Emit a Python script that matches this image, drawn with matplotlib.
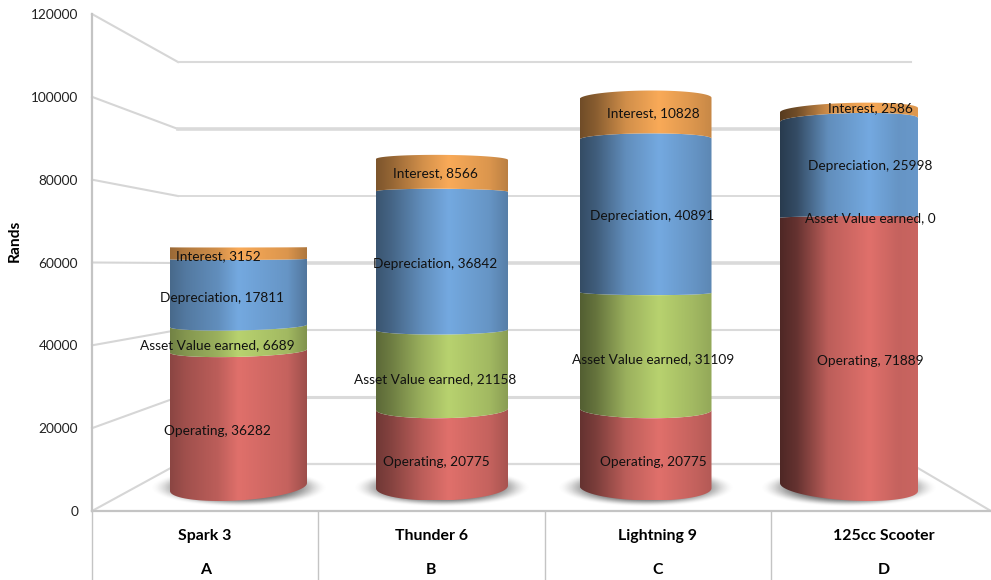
import numpy as np
import matplotlib
matplotlib.use("Agg")
import matplotlib.pyplot as plt
from matplotlib.colors import to_rgb
from matplotlib.patches import PathPatch
from matplotlib.path import Path
from matplotlib.transforms import Affine2D

categories = ["Spark 3", "Thunder 6", "Lightning 9", "125cc Scooter"]
letters = ["A", "B", "C", "D"]
series_names = ["Operating", "Asset Value earned", "Depreciation", "Interest"]
operating = [36282, 20775, 20775, 71889]
asset_value = [6689, 21158, 31109, 0]
depreciation = [17811, 36842, 40891, 25998]
interest = [3152, 8566, 10828, 2586]
y_ticks = [0, 20000, 40000, 60000, 80000, 100000, 120000]

series = [operating, asset_value, depreciation, interest]
colors = ["#e0706b", "#b8d26f", "#74a9e0", "#f9aa58"]

W, H = 991, 580
plt.rcParams["font.family"] = ["Lato", "DejaVu Sans"]

fig = plt.figure(figsize=(W / 100, H / 100), dpi=100)
# pixel coordinates, origin top left, for the walls and labels
px = Affine2D().scale(1, -1).translate(0, H)

# front axis: value scale on the left edge and the category table below
FRONT_L, FRONT_R, FRONT_T, FRONT_B = 92, 997, 14, 511
ax = fig.add_axes([FRONT_L / W, 1 - FRONT_B / H, (FRONT_R - FRONT_L) / W, (FRONT_B - FRONT_T) / H])
ax.set_xlim(0, 4)
ax.set_ylim(0, 120000)
ax.patch.set_visible(False)
for side in ["top", "right"]:
    ax.spines[side].set_visible(False)
for side in ["left", "bottom"]:
    ax.spines[side].set_color("#c4c4c4")
    ax.spines[side].set_linewidth(1.6)
ax.set_yticks(y_ticks)
ax.tick_params(axis="y", length=0, pad=10, labelsize=9.8, labelcolor="#222222")
plt.setp(ax.get_yticklabels(), va="center_baseline")
ax.set_xticks([0, 1, 2, 3])
ax.set_xticklabels([])
ax.tick_params(axis="x", which="major", length=69 * 0.72, width=1, color="#c4c4c4")
ax.set_xticks([0.5, 1.5, 2.5, 3.5], minor=True)
ax.set_xticklabels([f"{c}\n\n{l}" for c, l in zip(categories, letters)], minor=True,
                   fontweight="bold", fontsize=11.4, linespacing=1.27)
ax.tick_params(axis="x", which="minor", length=0, pad=13)
ax.text(15, 241, "Rands", transform=px, rotation=90, ha="center", va="center",
        fontweight="bold", fontsize=11.2)


def front_y(v):
    return FRONT_B - v * (FRONT_B - FRONT_T) / 120000


def back_y(v):
    return 464 - v * (464 - 62) / 120000


# gridlines run along the side wall and then across the back wall
grid_widths = [1.6, 2.2, 1.5, 2.6, 1.4, 2.6, 1.5]
for v, lw in zip(y_ticks, grid_widths):
    ax.plot([FRONT_L, 178], [front_y(v), back_y(v)], transform=px,
            color="#d6d6d6", lw=1.5, clip_on=False, zorder=1)
    ax.plot([178, 911], [back_y(v), back_y(v)], transform=px,
            color="#dadada", lw=lw, clip_on=False, zorder=1)
ax.plot([911, 991], [back_y(0), front_y(0)], transform=px, color="#d6d6d6", lw=1.5,
        clip_on=False, zorder=1)

# cylinders live on their own overlay whose units are category index and rands
CX0, CX_STEP = 238.5, 203.5
BASE_PX, PX_PER_RAND = 487, 0.00375
HORIZON_PX = 243
bars = fig.add_axes([0, 0, 1, 1])
bars.patch.set_visible(False)
bars.axis("off")

radius_px = [68.5, 66, 66, 69]
left_shade = [0.62, 0.5, 0.45, 0.35]
right_shade = [0.7, 0.75, 0.8, 0.9]
peak_at = [0.5, 0.55, 0.6, 0.65]


def arc(i, v, reverse=False):
    # front edge of the cylinder's cross-section at height v
    theta = np.linspace(0, np.pi, 60)
    if reverse:
        theta = theta[::-1]
    py = BASE_PX - v * PX_PER_RAND
    cx_px = CX0 + i * CX_STEP
    sag = 0.055 * (py - HORIZON_PX)
    tilt = (cx_px - 545) / 305 * 4 * (py - HORIZON_PX) / 250
    x = i + radius_px[i] / CX_STEP * np.cos(theta)
    y_px = py + sag * np.sin(theta) + tilt * np.cos(theta)
    return x, (BASE_PX - y_px) / PX_PER_RAND


yy, xx = np.mgrid[-1:1:80j, -1:1:200j]
dist = np.sqrt(xx ** 2 + yy ** 2)
fade = np.clip((1 - dist) / 0.45, 0, 1)
shadow = np.zeros(dist.shape + (4,))
shadow[..., :3] = to_rgb("#757575")
shadow[..., 3] = fade * fade * (3 - 2 * fade)

for i in range(len(categories)):
    # ground shadow
    bars.imshow(shadow, extent=[i - 89 / CX_STEP, i + 89 / CX_STEP,
                                -20 / PX_PER_RAND, 19 / PX_PER_RAND],
                aspect="auto", interpolation="bilinear", zorder=2)
    t = np.linspace(0, 1, 256)
    shade = np.interp(t, [0, 0.12, 0.35, peak_at[i], 0.86, 1],
                      [left_shade[i], left_shade[i] + 0.1, 0.84, 1, 0.88, right_shade[i]])
    bottom = 0
    for values, color in zip(series, colors):
        top = bottom + values[i]
        if values[i] > 0:
            x0, y0 = arc(i, bottom)
            x1, y1 = arc(i, top, reverse=True)
            verts = np.column_stack([np.r_[x0, x1], np.r_[y0, y1]])
            path = Path(np.vstack([verts, verts[:1]]), closed=True)
            grad = (shade[None, :, None] * np.array(to_rgb(color))[None, None, :]).clip(0, 1)
            im = bars.imshow(grad, aspect="auto", zorder=3, interpolation="bilinear",
                             extent=[verts[:, 0].min(), verts[:, 0].max(),
                                     verts[:, 1].min(), verts[:, 1].max()])
            im.set_clip_path(PathPatch(path, transform=bars.transData))
        bottom = top

bars.set_xlim(-CX0 / CX_STEP, (W - CX0) / CX_STEP)
bars.set_ylim((BASE_PX - H) / PX_PER_RAND, BASE_PX / PX_PER_RAND)

# data label anchor points, one row per category, in series order
label_x = [[217, 217, 222, 218], [436, 435, 435, 435], [653, 653, 652, 653], [870, 870, 870, 870]]
label_y = [[431, 345, 298, 256], [462, 379, 264, 173], [462, 359, 216, 113], [361, 218, 166, 108]]
for i in range(len(categories)):
    for k, name in enumerate(series_names):
        bars.text(label_x[i][k], label_y[i][k], f"{name}, {series[k][i]}", transform=px,
                  ha="center", va="center", fontsize=9.8, color="#111111", zorder=5)

fig.savefig("out.png", dpi=100)
